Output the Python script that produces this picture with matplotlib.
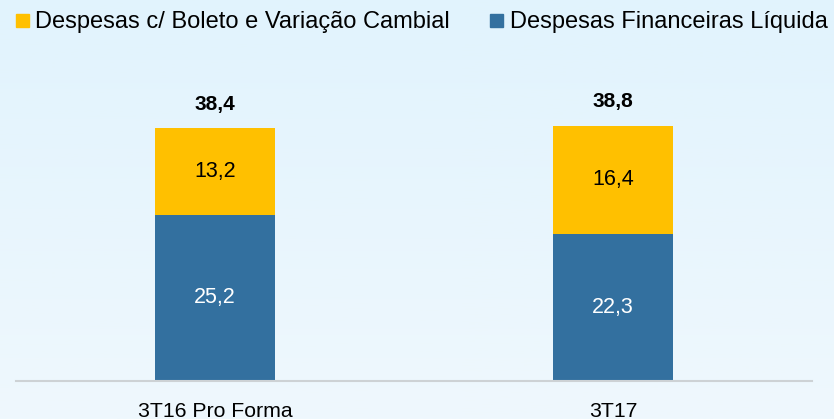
import numpy as np
import matplotlib.pyplot as plt
from matplotlib.colors import LinearSegmentedColormap
from matplotlib.patches import Rectangle

plt.rcParams['font.family'] = ['Liberation Sans', 'DejaVu Sans']

categories = ['3T16 Pro Forma', '3T17']
liquida = [25.2, 22.3]
boleto = [13.2, 16.4]
totais = [38.4, 38.8]
labels_series = ['Despesas c/ Boleto e Variação Cambial', 'Despesas Financeiras Líquida']

c_blue = '#33709F'
c_yellow = '#FFC000'

W, H = 834, 419
fig = plt.figure(figsize=(W / 100, H / 100), dpi=100)

# gradient background
bg = fig.add_axes([0, 0, 1, 1], zorder=-1)
grad = np.linspace(0, 1, 256).reshape(-1, 1)
cmap = LinearSegmentedColormap.from_list('bg', ['#E1F3FD', '#EFF8FD'])
bg.imshow(grad, aspect='auto', cmap=cmap, extent=[0, 1, 0, 1])
bg.axis('off')

ax = fig.add_axes([16 / W, 38 / H, 796 / W, 296.8 / H])
ax.patch.set_alpha(0)
x = np.arange(len(categories))
w = 0.301
ax.bar(x, liquida, w, color=c_blue, zorder=2)
ax.bar(x, boleto, w, bottom=liquida, color=c_yellow, zorder=2)

for i in range(len(x)):
    ax.text(x[i], liquida[i] / 2, f'{liquida[i]:.1f}'.replace('.', ','),
            ha='center', va='center', color='white', fontsize=15.5)
    ax.text(x[i], liquida[i] + boleto[i] / 2, f'{boleto[i]:.1f}'.replace('.', ','),
            ha='center', va='center', color='black', fontsize=15.5)
    ax.annotate(f'{totais[i]:.1f}'.replace('.', ','), (x[i], totais[i]),
                xytext=(0, 17), textcoords='offset points',
                ha='center', va='center', color='black', fontsize=15, fontweight='bold')

ax.set_xlim(-0.5, 1.5)
ax.set_ylim(0, 45)
for s in ['top', 'right', 'left']:
    ax.spines[s].set_visible(False)
ax.spines['bottom'].set_color('#CDD2D5')
ax.spines['bottom'].set_linewidth(1.5)
ax.set_yticks([])
ax.set_xticks(x)
ax.set_xticklabels(categories, fontsize=15.3)
ax.tick_params(axis='x', length=0, pad=15)

# legend
base = 1 - 27.7 / H
fig.patches.append(Rectangle((16 / W, 1 - 27 / H), 13 / W, 13 / H,
                             transform=fig.transFigure, color=c_yellow, figure=fig))
fig.text(35 / W, base, labels_series[0], fontsize=17, va='baseline')
fig.patches.append(Rectangle((490 / W, 1 - 27 / H), 13 / W, 13 / H,
                             transform=fig.transFigure, color=c_blue, figure=fig))
fig.text(510 / W, base, labels_series[1], fontsize=17, va='baseline')

fig.savefig('out.png', dpi=100)
